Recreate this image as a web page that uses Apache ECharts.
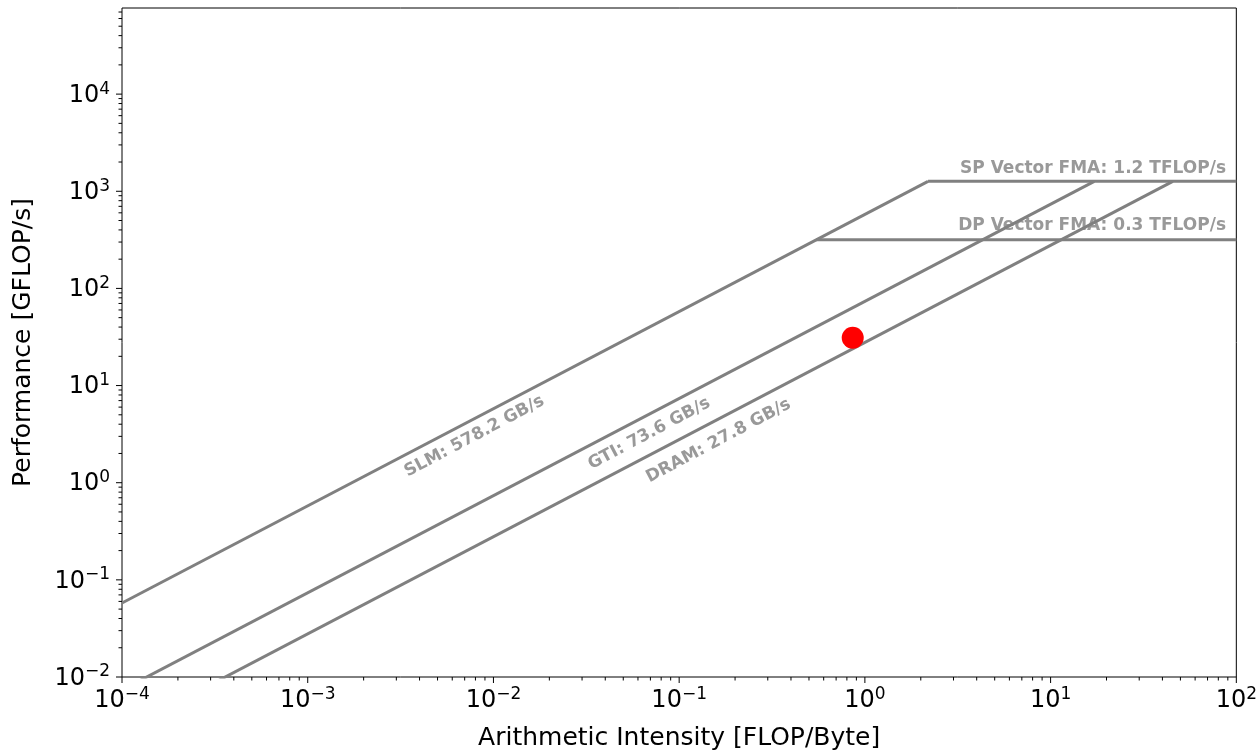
<!DOCTYPE html>
<html>
<head>
<meta charset="utf-8">
<script src="https://cdn.jsdelivr.net/npm/echarts@6/dist/echarts.min.js"></script>
<style>
  html, body { margin: 0; padding: 0; background: #fff; }
  #roofline { width: 1260px; height: 756px; }
</style>
</head>
<body>
<div id="roofline"></div>
<script>
// roofline data
var memRoofNames = ['SLM', 'GTI', 'DRAM'];
var memBandwidth = [578.2, 73.6, 27.8];           // GB/s
var memLabelAt = [[0.0079, 3.0], [0.069, 3.2], [0.163, 2.7]];  // label centres (x, y)

var compRoofNames = ['SP Vector FMA', 'DP Vector FMA'];
var compPeak = [1265, 316];                        // GFLOP/s
var compPeakText = ['1.2', '0.3'];                 // TFLOP/s
var compLabelAt = [[88, 1700], [88, 440]];         // label right ends (x, y)

var kernelPoint = [0.86, 31];

var X_MIN = 1e-4, X_MAX = 1e2;
var Y_MIN = 1e-2, Y_MAX = 7.7e4;

(function(){
    var FONT = 'DejaVu Sans';
    var lineColor = '#808080';
    var textColor = '#808080';
    var topPeak = Math.max.apply(null, compPeak);
    var maxBw = Math.max.apply(null, memBandwidth);

    var series = [];

    // memory roofs: from the left edge up to the highest compute roof
    memRoofNames.forEach(function(name, i){
        var bw = memBandwidth[i];
        series.push({
            name: name,
            type: 'line',
            data: [[X_MIN, X_MIN * bw], [topPeak / bw, topPeak]],
            symbol: 'none',
            lineStyle: { color: lineColor, width: 3 },
            silent: true,
            z: 2
        });
    });

    // compute roofs: from the ridge of the fastest memory to the right edge
    compRoofNames.forEach(function(name, i){
        var pk = compPeak[i];
        series.push({
            name: name,
            type: 'line',
            data: [[pk / maxBw, pk], [X_MAX, pk]],
            symbol: 'none',
            lineStyle: { color: lineColor, width: 3 },
            silent: true,
            z: 2
        });
    });

    // rotated memory roof labels
    var angle = 28;
    series.push({
        type: 'scatter',
        symbolSize: 0,
        silent: true,
        data: memRoofNames.map(function(name, i){
            return { value: memLabelAt[i], name: name + ': ' + memBandwidth[i].toFixed(1) + ' GB/s' };
        }),
        label: {
            show: true,
            position: 'inside',
            formatter: '{b}',
            rotate: angle,
            align: 'center',
            verticalAlign: 'middle',
            color: textColor,
            fontFamily: FONT,
            fontWeight: 'bold',
            fontSize: 17
        },
        z: 3
    });

    // compute roof labels
    series.push({
        type: 'scatter',
        symbolSize: 0,
        silent: true,
        data: compRoofNames.map(function(name, i){
            return { value: compLabelAt[i], name: name + ': ' + compPeakText[i] + ' TFLOP/s' };
        }),
        label: {
            show: true,
            position: 'inside',
            formatter: '{b}',
            align: 'right',
            verticalAlign: 'middle',
            color: textColor,
            fontFamily: FONT,
            fontWeight: 'bold',
            fontSize: 17
        },
        z: 3
    });

    // the kernel
    series.push({
        type: 'scatter',
        data: [kernelPoint],
        symbol: 'circle',
        symbolSize: 22,
        itemStyle: { color: '#ff0000', opacity: 1 },
        z: 5
    });

    // matplotlib-style log ticks (major + minor), drawn through the axes
    function logTicks(lo, hi){
        var out = [];
        for (var e = Math.floor(Math.log10(lo)); e <= Math.ceil(Math.log10(hi)); e++) {
            for (var m = 1; m <= 9; m++) {
                var v = m * Math.pow(10, e);
                if (v >= lo * 0.9999 && v <= hi * 1.0001) out.push([v, m === 1 ? 6 : 3.5]);
            }
        }
        return out;
    }
    series.push({
        type: 'custom',
        silent: true,
        clip: false,
        data: logTicks(X_MIN, X_MAX).map(function(t){ return [t[0], Y_MIN, t[1]]; }),
        encode: { x: 0, y: 1 },
        renderItem: function(params, api){
            var p = api.coord([api.value(0), Y_MIN]);
            return { type: 'line', shape: { x1: p[0], y1: p[1], x2: p[0], y2: p[1] + api.value(2) },
                     style: { stroke: '#000', lineWidth: 1 } };
        },
        z: 10
    });
    series.push({
        type: 'custom',
        silent: true,
        clip: false,
        data: logTicks(Y_MIN, Y_MAX).map(function(t){ return [X_MIN, t[0], t[1]]; }),
        encode: { x: 0, y: 1 },
        renderItem: function(params, api){
            var p = api.coord([X_MIN, api.value(1)]);
            return { type: 'line', shape: { x1: p[0], y1: p[1], x2: p[0] - api.value(2), y2: p[1] },
                     style: { stroke: '#000', lineWidth: 1 } };
        },
        z: 10
    });

    function powLabel(v){
        var lg = Math.log10(v);
        var e = Math.round(lg);
        if (Math.abs(lg - e) > 1e-6) return '';
        return '{b|10}{s|' + String(e).replace('-', '\u2212') + '}';
    }
    var richTick = {
        b: { fontSize: 24, fontFamily: FONT, color: '#000', lineHeight: 27, verticalAlign: 'bottom' },
        s: { fontSize: 17, fontFamily: FONT, color: '#000', lineHeight: 17, verticalAlign: 'top' }
    };

    var option = {
        animation: false,
        backgroundColor: '#fff',
        textStyle: { fontFamily: FONT },
        grid: {
            left: 122, right: 23, top: 8, bottom: 76,
            show: true, borderColor: '#000', borderWidth: 1, backgroundColor: 'transparent'
        },
        xAxis: {
            type: 'log',
            min: X_MIN, max: X_MAX,
            interval: 1,
            name: 'Arithmetic Intensity [FLOP/Byte]',
            nameLocation: 'middle',
            nameGap: 49,
            nameTextStyle: { fontSize: 25, color: '#000', fontFamily: FONT },
            axisLine: { show: false },
            axisTick: { show: false },
            splitLine: { show: false },
            axisLabel: { margin: 9, formatter: powLabel, rich: richTick }
        },
        yAxis: {
            type: 'log',
            min: Y_MIN, max: Y_MAX,
            interval: 1,
            name: 'Performance [GFLOP/s]',
            nameLocation: 'middle',
            nameGap: 86,
            nameTextStyle: { fontSize: 25, color: '#000', fontFamily: FONT },
            axisLine: { show: false },
            axisTick: { show: false },
            splitLine: { show: false },
            axisLabel: { margin: 12, formatter: powLabel, rich: richTick }
        },
        series: series
    };

    var chart = echarts.init(document.getElementById('roofline'));
    chart.setOption(option);
})();
</script>
</body>
</html>
